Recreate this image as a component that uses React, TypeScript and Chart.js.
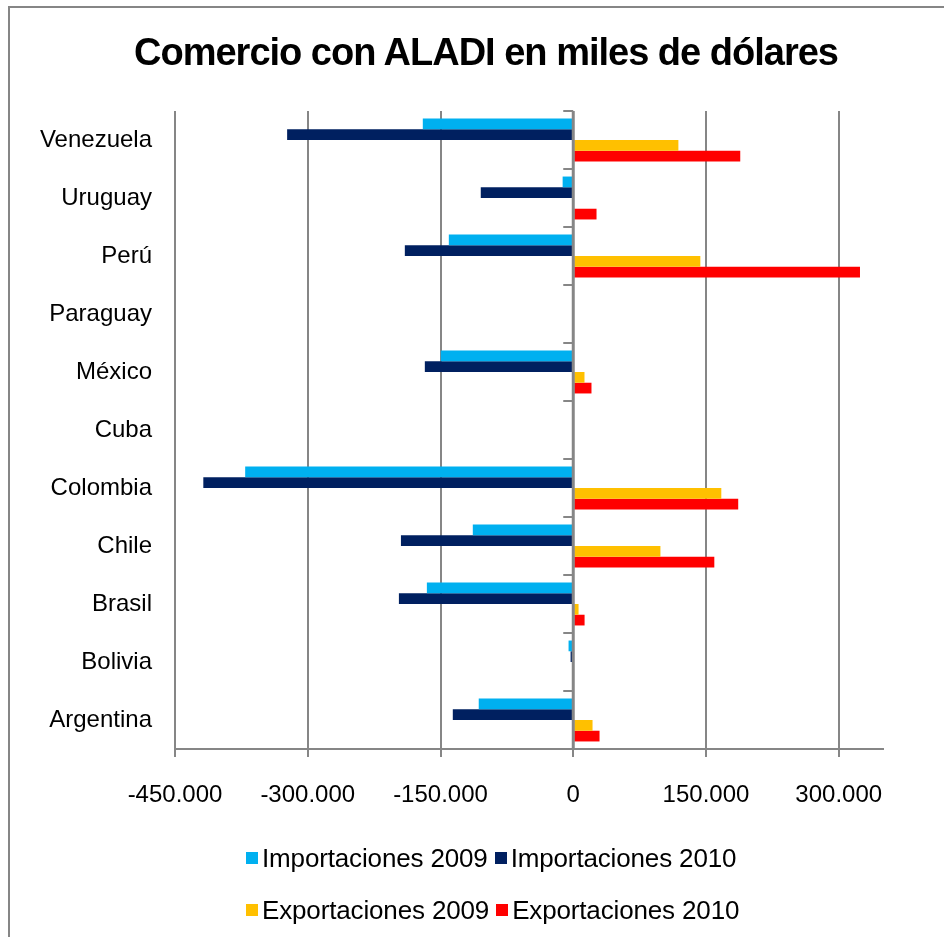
import React, { useEffect, useRef } from 'react';
import { Chart, registerables } from 'chart.js';

Chart.register(...registerables);

const categories = ['Venezuela', 'Uruguay', 'Perú', 'Paraguay', 'México', 'Cuba', 'Colombia', 'Chile', 'Brasil', 'Bolivia', 'Argentina'];
const importaciones2009 = [-170000, -12000, -140600, 0, -149700, 0, -370700, -113500, -165400, -5300, -106800];
const importaciones2010 = [-323300, -104500, -190300, 0, -167700, 0, -418000, -194700, -197000, -3000, -136100];
const exportaciones2009 = [118800, 0, 143600, 0, 12700, 0, 167300, 98500, 6000, 0, 21800];
const exportaciones2010 = [188700, 26300, 324000, 0, 20600, 0, 186400, 159400, 12800, 0, 29700];

const seriesNames = ['Importaciones 2009', 'Importaciones 2010', 'Exportaciones 2009', 'Exportaciones 2010'];
const seriesColors = ['#00B0F0', '#002060', '#FFC000', '#FF0000'];

const xTickValues = [-450000, -300000, -150000, 0, 150000, 300000];
const xTickLabels = ['-450.000', '-300.000', '-150.000', '0', '150.000', '300.000'];
const xMin = -450000;
const xMax = 350000;

const titleText = 'Comercio con ALADI en miles de dólares';

const FONT = '"Liberation Sans", Arial, sans-serif';
const GRID = '#868686';

const zeroAxisPlugin = {
  id: 'zeroAxis',
  afterDatasetsDraw(chart: any) {
    const { ctx, chartArea, scales } = chart;
    const x0 = scales.x.getPixelForValue(0);
    ctx.save();
    ctx.strokeStyle = GRID;
    ctx.lineWidth = 3;
    ctx.beginPath();
    ctx.moveTo(x0, chartArea.top);
    ctx.lineTo(x0, chartArea.bottom);
    ctx.stroke();
    ctx.lineWidth = 2;
    const n = categories.length;
    const h = (chartArea.bottom - chartArea.top) / n;
    for (let i = 0; i <= n; i++) {
      const y = Math.round(chartArea.top + i * h);
      ctx.beginPath();
      ctx.moveTo(x0 - 10, y);
      ctx.lineTo(x0, y);
      ctx.stroke();
    }
    ctx.restore();
  },
};

export default function App() {
  const canvasRef = useRef<HTMLCanvasElement | null>(null);

  useEffect(() => {
    if (!canvasRef.current) return;
    const values = [importaciones2009, importaciones2010, exportaciones2009, exportaciones2010];
    const chart = new Chart(canvasRef.current, {
      type: 'bar',
      data: {
        labels: categories,
        datasets: values.map((d, i) => ({
          label: seriesNames[i],
          data: d,
          backgroundColor: seriesColors[i],
          borderWidth: 0,
          categoryPercentage: 0.74,
          barPercentage: 1,
        })),
      },
      options: {
        indexAxis: 'y',
        responsive: false,
        animation: false,
        devicePixelRatio: 1,
        layout: { padding: { top: 111, right: 61, left: 0, bottom: 0 } },
        plugins: {
          legend: { display: false },
          title: { display: false },
          tooltip: { enabled: false },
        },
        scales: {
          x: {
            type: 'linear',
            min: xMin,
            max: xMax,
            afterBuildTicks: (scale: any) => {
              scale.ticks = xTickValues.map((v) => ({ value: v }));
            },
            afterFit: (scale: any) => {
              scale.height = 188;
            },
            grid: {
              color: GRID,
              lineWidth: 2,
              tickLength: 8,
              drawTicks: true,
            },
            border: { display: true, color: GRID, width: 2 },
            ticks: {
              color: '#000',
              font: { family: FONT, size: 24 },
              padding: 24,
              maxRotation: 0,
              autoSkip: false,
              callback: (value: any) => {
                const idx = xTickValues.indexOf(Number(value));
                return idx >= 0 ? xTickLabels[idx] : '';
              },
            },
          },
          y: {
            type: 'category',
            afterFit: (scale: any) => {
              scale.width = 175;
            },
            grid: { display: false, drawTicks: false },
            border: { display: false },
            ticks: {
              color: '#000',
              font: { family: FONT, size: 24 },
              padding: 23,
              autoSkip: false,
            },
          },
        },
      },
      plugins: [zeroAxisPlugin],
    });
    return () => chart.destroy();
  }, []);

  const legendRow = (items: number[], top: number) => (
    <div style={{ position: 'absolute', left: 246, top, display: 'flex', alignItems: 'center', height: 26 }}>
      {items.map((i) => (
        <div key={i} style={{ display: 'flex', alignItems: 'center', marginRight: 7 }}>
          <span style={{ display: 'inline-block', width: 12, height: 12, background: seriesColors[i], marginRight: 4 }} />
          <span style={{ font: `26px ${FONT}`, lineHeight: '26px', color: '#000', letterSpacing: '-0.15px', whiteSpace: 'nowrap' }}>
            {seriesNames[i]}
          </span>
        </div>
      ))}
    </div>
  );

  return (
    <div style={{ position: 'absolute', left: 0, top: 0, width: 944, height: 937, background: '#fff', overflow: 'hidden' }}>
      <div
        style={{
          position: 'absolute',
          left: 8,
          top: 6,
          width: 944,
          height: 940,
          borderLeft: `2px solid ${GRID}`,
          borderTop: `2px solid ${GRID}`,
          boxSizing: 'border-box',
        }}
      />
      <canvas ref={canvasRef} width={944} height={937} style={{ position: 'absolute', left: 0, top: 0, width: 944, height: 937 }} />
      <div
        style={{
          position: 'absolute',
          left: 14,
          top: 33,
          width: 944,
          textAlign: 'center',
          font: `bold 38px ${FONT}`,
          lineHeight: '38px',
          letterSpacing: '-1px',
          color: '#000',
          whiteSpace: 'nowrap',
        }}
      >
        {titleText}
      </div>
      {legendRow([0, 1], 845)}
      {legendRow([2, 3], 897)}
    </div>
  );
}
